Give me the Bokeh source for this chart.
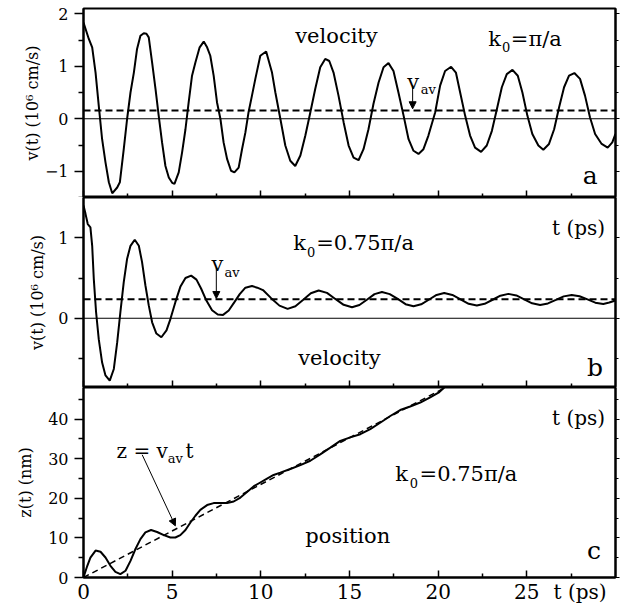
from bokeh.plotting import figure
from bokeh.layouts import column
from bokeh.models import FixedTicker, LinearAxis, Span, Arrow, NormalHead, Range1d
from bokeh.embed import file_html
from bokeh.resources import INLINE
from bokeh.core.properties import value

FONT = "DejaVu Serif"

# ---------------- data ----------------
# panel a : k0 = pi/a, velocity (1e6 cm/s)
t_a = [0.00, 0.30, 0.49, 0.68, 0.86, 1.05, 1.24, 1.43, 1.62, 1.90, 2.05, 2.27, 2.46, 2.65, 2.84,
       3.02, 3.21, 3.40, 3.55, 3.68, 3.87, 4.06, 4.24, 4.43, 4.62, 4.81, 5.00, 5.13, 5.37, 5.56,
       5.75, 5.93, 6.12, 6.31, 6.55, 6.78, 6.97, 7.15, 7.34, 7.53, 7.72, 7.90, 8.10, 8.32, 8.51,
       8.75, 8.94, 9.13, 9.31, 9.50, 9.69, 9.97, 10.30, 10.63, 10.82, 11.10, 11.38, 11.66, 11.94,
       12.23, 12.51, 12.79, 13.07, 13.35, 13.63, 13.86, 14.10, 14.38, 14.67, 14.95, 15.23, 15.51,
       15.79, 16.07, 16.35, 16.64, 16.92, 17.20, 17.48, 17.76, 18.05, 18.33, 18.61, 18.89, 19.17,
       19.45, 19.83, 20.11, 20.39, 20.73, 21.00, 21.24, 21.52, 21.80, 22.08, 22.42, 22.74, 23.03,
       23.31, 23.59, 23.87, 24.19, 24.49, 24.75, 25.03, 25.31, 25.65, 25.93, 26.25, 26.54, 26.82,
       27.10, 27.38, 27.68, 28.00, 28.28, 28.56, 28.85, 29.22, 29.56, 29.82, 30.00]
v_a = [1.83, 1.52, 1.36, 0.88, 0.25, -0.39, -0.83, -1.21, -1.42, -1.31, -1.21, -0.58, 0.00, 0.50, 0.88,
       1.33, 1.58, 1.63, 1.62, 1.55, 1.07, 0.57, 0.06, -0.45, -0.90, -1.12, -1.22, -1.24, -1.02, -0.64,
       -0.20, 0.31, 0.82, 1.07, 1.36, 1.47, 1.36, 1.20, 0.82, 0.31, 0.00, -0.45, -0.77, -0.99, -1.02,
       -0.93, -0.58, -0.26, 0.13, 0.44, 0.76, 1.20, 1.28, 0.88, 0.50, 0.00, -0.51, -0.80, -0.90,
       -0.70, -0.32, 0.12, 0.57, 0.98, 1.14, 1.10, 0.88, 0.44, -0.07, -0.51, -0.74, -0.79,
       -0.58, -0.20, 0.28, 0.69, 0.98, 1.06, 0.91, 0.50, 0.06, -0.39, -0.61, -0.67, -0.58,
       -0.32, 0.12, 0.63, 0.91, 0.99, 0.88, 0.50, 0.06, -0.32, -0.55, -0.63, -0.51, -0.23,
       0.18, 0.60, 0.85, 0.93, 0.82, 0.50, 0.06, -0.29, -0.51, -0.59, -0.48, -0.20, 0.22,
       0.60, 0.82, 0.87, 0.76, 0.44, 0.03, -0.29, -0.48, -0.55, -0.45, -0.29]
vav_a = 0.155

# panel b : k0 = 0.75 pi/a, velocity (1e6 cm/s)
t_b = [0.00, 0.11, 0.24, 0.39, 0.49, 0.58, 0.71, 0.86, 1.05, 1.24, 1.48, 1.71, 1.90, 2.08, 2.27,
       2.46, 2.65, 2.89, 3.12, 3.30, 3.49, 3.68, 3.87, 4.11, 4.39, 4.68, 4.90, 5.18, 5.46, 5.75,
       6.07, 6.37, 6.63, 6.93, 7.25, 7.57, 7.87, 8.19, 8.51, 8.81, 9.13, 9.50, 9.80, 10.12, 10.58,
       11.05, 11.51, 11.95, 12.39, 12.82, 13.26, 13.73, 14.20, 14.67, 15.14, 15.56, 15.98, 16.41,
       16.83, 17.27, 17.72, 18.16, 18.61, 19.04, 19.47, 19.91, 20.34, 20.80, 21.26, 21.72, 22.18,
       22.62, 23.07, 23.51, 23.96, 24.41, 24.85, 25.30, 25.75, 26.19, 26.64, 27.08, 27.53, 27.97,
       28.42, 28.86, 29.31, 29.65, 30.00]
v_b = [1.40, 1.30, 1.17, 1.13, 0.90, 0.49, 0.075, -0.26, -0.55, -0.71, -0.775, -0.63, -0.30, 0.075, 0.45,
       0.74, 0.90, 0.975, 0.90, 0.70, 0.41, 0.16, -0.05, -0.19, -0.236, -0.15, -0.01, 0.20, 0.39, 0.50,
       0.53, 0.48, 0.37, 0.22, 0.10, 0.046, 0.042, 0.096, 0.20, 0.30, 0.38, 0.40, 0.38, 0.35, 0.25,
       0.157, 0.117, 0.15, 0.23, 0.31, 0.345, 0.315, 0.24, 0.167, 0.137, 0.165, 0.23, 0.30,
       0.326, 0.30, 0.24, 0.175, 0.149, 0.173, 0.23, 0.29, 0.314, 0.29, 0.236, 0.18, 0.158,
       0.18, 0.23, 0.28, 0.303, 0.283, 0.235, 0.186, 0.166, 0.184, 0.228, 0.272, 0.29, 0.274,
       0.234, 0.194, 0.178, 0.195, 0.22]
vav_b = 0.235

# panel c : position (nm)
t_c = [0.00, 0.21, 0.39, 0.68, 0.96, 1.24, 1.52, 1.80, 2.08, 2.37, 2.65, 2.93, 3.21, 3.49, 3.81,
       4.15, 4.53, 4.90, 5.18, 5.46, 5.75, 6.03, 6.31, 6.59, 6.97, 7.34, 7.72, 8.10, 8.47, 8.85,
       9.22, 9.59, 9.97, 10.35, 10.72, 11.10, 11.66, 12.23, 12.79, 13.35, 13.92, 14.48, 15.04,
       15.61, 16.17, 16.73, 17.30, 17.86, 18.42, 18.99, 19.55, 20.02, 20.39]
z_c = [0.0, 2.9, 5.0, 6.8, 6.5, 5.05, 2.95, 1.44, 0.85, 1.7, 4.2, 7.2, 9.7, 11.4, 12.0,
       11.5, 10.7, 10.1, 10.1, 10.7, 12.0, 13.9, 15.6, 17.1, 18.3, 18.8, 18.8, 18.8, 19.2, 20.2,
       21.6, 23.0, 24.0, 25.0, 25.9, 26.5, 27.4, 28.4, 29.5, 31.1, 32.8, 34.5, 35.4,
       36.2, 37.5, 39.1, 40.8, 42.3, 43.2, 44.2, 45.5, 46.7, 48.2]
t_fit = [0.0, 21.0]
z_fit = [0.0, 49.4]

x_major = [0, 5, 10, 15, 20, 25]
x_minor = [2.5, 7.5, 12.5, 17.5, 22.5, 27.5]
x_title_pos = 28
x_title = "t (ps)"
ya_major = [-1, 0, 1, 2]
ya_minor = [-1.5, -0.5, 0.5, 1.5]
yb_major = [0, 1]
yb_minor = [-0.5, 0.5]
yc_major = [0, 10, 20, 30, 40]
yc_minor = [5, 15, 25, 35, 45]


def hide_labels(ax):
    ax.major_label_text_font_size = "0px"
    ax.major_label_text_color = None
    ax.major_label_standoff = 0
    ax.axis_label = None


def make_panel(frame_h, yr, top, bottom, ymaj, ymin, ylabel, ylabel_standoff, show_x):
    p = figure(frame_width=532, frame_height=frame_h, x_range=Range1d(0, 30), y_range=Range1d(*yr),
               output_backend="svg", toolbar_location=None,
               min_border_left=83, min_border_right=12, min_border_top=top, min_border_bottom=bottom)
    p.grid.visible = False
    p.outline_line_color = "black"
    p.outline_line_width = 2
    p.background_fill_color = "white"
    p.border_fill_color = "white"

    # tick marks (inward) on the bottom edge, no labels
    xa = p.xaxis[0]
    xa.ticker = FixedTicker(ticks=x_major, minor_ticks=x_minor)
    xa.major_tick_in = 7
    xa.major_tick_out = 0
    xa.minor_tick_in = 4
    xa.minor_tick_out = 0
    xa.axis_line_width = 2
    xa.major_tick_line_width = 1.5
    xa.minor_tick_line_width = 1.5
    hide_labels(xa)

    if show_x:
        # label row: tick numbers plus the "t (ps)" title in the same row
        la = LinearAxis(ticker=FixedTicker(ticks=x_major + [x_title_pos], minor_ticks=[]))
        la.major_label_overrides = {x_title_pos: x_title}
        la.axis_line_color = None
        la.major_tick_line_color = None
        la.minor_tick_line_color = None
        la.major_tick_in = 0
        la.major_tick_out = 0
        la.minor_tick_in = 0
        la.minor_tick_out = 0
        la.major_label_text_font = FONT
        la.major_label_text_font_size = "20px"
        la.major_label_text_color = "black"
        la.major_label_standoff = 2
        la.axis_label = None
        p.add_layout(la, "below")

    ya = p.yaxis[0]
    ya.ticker = FixedTicker(ticks=ymaj, minor_ticks=ymin)
    ya.major_tick_in = 0
    ya.major_tick_out = 9
    ya.minor_tick_in = 0
    ya.minor_tick_out = 5
    ya.axis_line_width = 2
    ya.major_tick_line_width = 1.5
    ya.minor_tick_line_width = 1.5
    ya.major_label_text_font = FONT
    ya.major_label_text_font_size = "16px"
    ya.major_label_text_color = "black"
    ya.major_label_standoff = 6
    ya.axis_label = ylabel
    ya.axis_label_text_font = FONT
    ya.axis_label_text_font_size = "16px"
    ya.axis_label_text_font_style = "normal"
    ya.axis_label_text_color = "black"
    ya.axis_label_standoff = ylabel_standoff

    ra = LinearAxis(ticker=FixedTicker(ticks=ymaj, minor_ticks=ymin))
    ra.major_tick_in = 0
    ra.major_tick_out = 4
    ra.minor_tick_in = 0
    ra.minor_tick_out = 3
    ra.axis_line_width = 2
    hide_labels(ra)
    p.add_layout(ra, "right")
    return p


def txt(p, x, y, s, size):
    p.text(x=[x], y=[y], text=[s], text_font=value(FONT), text_font_size=size,
           text_baseline="alphabetic", text_align="left", text_color="black")


# ---------------- panel a ----------------
pa = make_panel(189, (-1.5, 2.1), 8, 0, ya_major, ya_minor, "v(t) (10⁶ cm/s)", 0, False)
pa.add_layout(Span(location=0, dimension="width", line_color="black", line_width=1))
pa.add_layout(Span(location=vav_a, dimension="width", line_color="black", line_width=2, line_dash="7 4"))
pa.line(t_a, v_a, line_color="black", line_width=2)
txt(pa, 11.94, 1.58, "velocity", "21px")
txt(pa, 22.82, 1.52, "k", "21px")
txt(pa, 23.60, 1.37, "0", "13px")
txt(pa, 24.10, 1.52, "=π/a", "21px")
txt(pa, 18.25, 0.70, "v", "21px")
txt(pa, 19.02, 0.55, "av", "13px")
txt(pa, 28.15, -1.09, "a", "25px")
pa.add_layout(Arrow(end=NormalHead(size=7, line_color="black", fill_color="black"),
                    x_start=18.56, y_start=0.64, x_end=18.56, y_end=0.19,
                    line_color="black", line_width=1))

# ---------------- panel b ----------------
pb = make_panel(190, (-0.86, 1.5), 0, 0, yb_major, yb_minor, "v(t) (10⁶ cm/s)", 8, False)
pb.add_layout(Span(location=0, dimension="width", line_color="black", line_width=1))
pb.add_layout(Span(location=vav_b, dimension="width", line_color="black", line_width=2, line_dash="7 4"))
pb.line(t_b, v_b, line_color="black", line_width=2)
txt(pb, 26.42, 1.116, "t (ps)", "20px")
txt(pb, 11.83, 0.93, "k", "21px")
txt(pb, 12.60, 0.82, "0", "13px")
txt(pb, 13.12, 0.93, "=0.75π/a", "21px")
txt(pb, 12.11, -0.49, "velocity", "21px")
txt(pb, 28.39, -0.61, "b", "25px")
txt(pb, 7.22, 0.68, "v", "21px")
txt(pb, 7.95, 0.57, "av", "13px")
pb.add_layout(Arrow(end=NormalHead(size=7, line_color="black", fill_color="black"),
                    x_start=7.49, y_start=0.63, x_end=7.49, y_end=0.245,
                    line_color="black", line_width=1))

# ---------------- panel c ----------------
pc = make_panel(190, (0, 48), 0, 28, yc_major, yc_minor, "z(t) (nm)", 10, True)
pc.line(t_fit, z_fit, line_color="black", line_width=1.5, line_dash="6 4")
pc.line(t_c, z_c, line_color="black", line_width=2)
txt(pc, 26.42, 40.3, "t (ps)", "20px")
txt(pc, 17.58, 26.2, "k", "21px")
txt(pc, 18.40, 23.9, "0", "13px")
txt(pc, 18.95, 26.2, "=0.75π/a", "21px")
txt(pc, 12.51, 10.5, "position", "21px")
txt(pc, 28.39, 6.7, "c", "25px")
txt(pc, 1.86, 32.0, "z = v", "20px")
txt(pc, 4.75, 30.0, "av", "13px")
txt(pc, 5.75, 32.0, "t", "20px")
pc.add_layout(Arrow(end=NormalHead(size=7, line_color="black", fill_color="black"),
                    x_start=3.31, y_start=31.0, x_end=5.18, y_end=13.05,
                    line_color="black", line_width=1))

layout = column(pa, pb, pc, spacing=0)
open("out.html", "w").write(file_html(layout, INLINE))
